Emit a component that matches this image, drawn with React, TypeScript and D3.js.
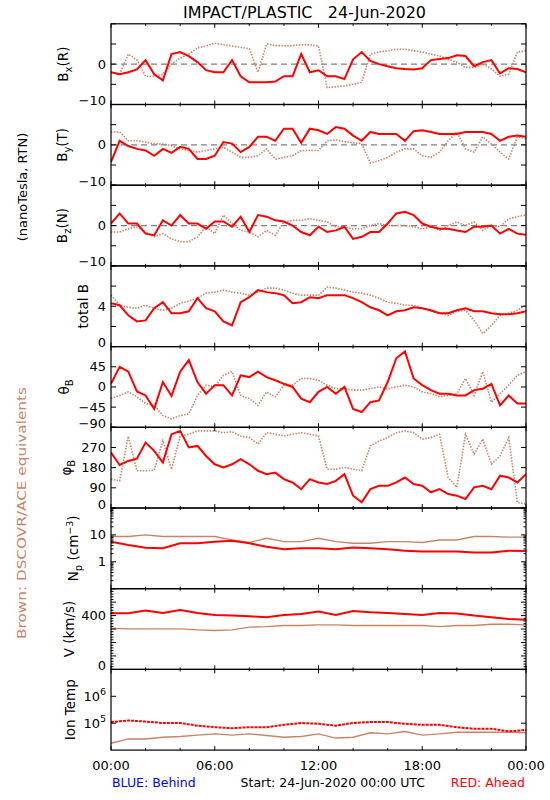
import React from "react";
import * as d3 from "d3";

const WIDTH = 550;
const HEIGHT = 800;
const PLOT_LEFT = 111;
const PLOT_RIGHT = 526;
const PLOT_TOP = 23.8;
const PANEL_H = 80.7;
const RED = "#ff0000";
const BROWN = "#c98468";
const GRAY = "#808080";
const FONT = "'DejaVu Sans', Verdana, sans-serif";

// ---------- time grids (hours since 00:00 UTC) ----------
const magHours = d3.range(0, 24.001, 0.5);
const plasmaHours = d3.range(0, 24.001, 1);

// ---------- magnetic field, nT (RTN) ----------
const bxRed = [
  -2, -2.5, -2, -1.3, 1, -2.5, -4, 2.5, 3, 2,
  0.5, -1.5, -2, -2, 1, -3, -4.5, -4.5, -4.5, -4.3,
  -3, -3, 2.5, -2, -1.5, -3, -3, -3.7, 1.2, 3,
  0.8, 0, -0.5, -1, -1.2, -1.3, -1, 1, 1.3, 1.5,
  2.2, 2, -0.5, 0.5, 1, -2.3, -1, -1.2, -2,
];
const bxBrown = [
  -2, -2.5, 2.5, 1, -3, -3, -2.5, 0, 1.5, 2.5,
  4, 4.5, 5.2, 4.8, 4.5, 4.2, 3.8, -2, 5, 4.6,
  4.6, 4.6, 4.8, 4.8, 4.5, -5.8, -5.6, -5.4, -5, -4.5,
  2.5, 3, 3.3, 3.7, 3.7, 3.3, 3, 2.5, 2, 1.2,
  0.5, -0.8, -0.8, 0, -1.2, -3, -2.5, 3, 3.3,
];
const byRed = [
  -4.3, 1, -0.3, -1, -1.4, -2.7, -1, -2, -0.5, -1,
  -3.5, -3.5, -2.7, 0.7, 0.3, -1.8, -0.5, 2, 2, 1,
  4, 4, 0.5, 4, 3.6, 2.7, 4.4, 4, 2.3, 1,
  3.2, 2.7, 2.7, 2.7, 1, 3.4, 3.6, 3.2, 2.7, 2.7,
  2.7, 3.2, 3.2, 3.2, 2.7, 1, 2, 2.3, 2,
];
const byBrown = [
  3.2, 3.2, 1, 1, 0.7, 0.3, 0.2, -0.2, -1, -1.4,
  -1.8, -1.4, -1, -0.6, -1.8, -3.1, -3.1, -2.7, -1, -3.5,
  -3.1, -2.7, -1.4, -1.4, -1.4, 1, 1.2, 0.8, 0.5, 0.3,
  -4.5, -3.9, -3.1, -1.8, -1, -1, -2.7, -3.1, -1.8, 1,
  3.2, -1, -1.8, 2, 0.2, -1.8, -3.5, 2, 1.5,
];
const bzRed = [
  0.5, 3, 0.5, 0.5, -2, -2.4, 1.3, 0, 2.6, 0.5,
  0.5, -0.8, 1, 1, -0.3, 2.2, -1.6, 2.6, 2.2, 1.3,
  1, 0, -1.6, -2.4, -0.3, -1.6, -1.2, -0.3, -3.3, -2.8,
  -1.6, -1.6, 0.5, 3, 3.4, 2.6, 0.5, -0.3, -0.8, -0.8,
  -1.2, -1.6, -0.3, -0.3, 0, -2, -0.8, -2, -2.3,
];
const bzBrown = [
  -1.6, -1.6, -0.8, -0.3, -1.6, -2.8, -2, -3.3, -4, -4,
  -2.8, -0.3, -2, 2.6, 0.5, -1.2, -1.6, -2.8, -1.2, -2.4,
  0.9, 1.3, 1.3, 1.7, 1.3, 0.9, -0.3, -0.3, -0.8, -0.8,
  0, 0.5, 0, 0, 0, -0.3, -0.8, -0.3, -1.2, 0,
  0.9, 0, 0.9, -1.2, 0, -0.3, 1.7, 2.2, 2.6,
];
const btRed = [
  4.3, 4.1, 3.1, 2.5, 2.6, 3.8, 4.4, 3.3, 3.3, 3.5,
  4.8, 3.8, 3.5, 2.5, 2.1, 4.4, 4.9, 5.6, 5.4, 5.3,
  5.1, 4.3, 4.4, 4.9, 4.8, 5.1, 5.1, 5.1, 4.8, 4.4,
  3.9, 3.6, 3.1, 3.5, 3.6, 3.9, 3.8, 3.6, 3.3, 3.3,
  3.6, 3.8, 3.5, 3.5, 3.3, 3.2, 3.2, 3.3, 3.5,
];
const btBrown = [
  5.1, 4.1, 3.9, 3.8, 4.1, 3.8, 3.6, 3.8, 4.3, 4.5,
  4.8, 5.3, 5.4, 5.6, 5.4, 5.3, 5.1, 5.4, 5.8, 5.8,
  5.6, 5.3, 5.1, 5.1, 5.1, 5.9, 5.8, 5.6, 5.4, 5.3,
  5.1, 4.8, 4.4, 4.3, 4.1, 4.1, 3.8, 3.5, 3.3, 3.1,
  3.5, 3.6, 2.6, 1.3, 2.1, 3.1, 3.3, 3.6, 4.1,
];
const thetaRed = [
  7, 45, 34, -10, -19, -49, 11, -20, 34, 60,
  11, -15, 4, 4, -19, 26, 22, 34, 22, 15,
  7, 0, -26, -34, -11, 0, -15, 0, -49, -56,
  -34, -30, 11, 64, 79, 19, 4, -7, -15, -15,
  -19, -19, -7, -4, 7, -41, -19, -37, -37,
];
const thetaBrown = [
  -26, -19, -11, -22, -37, -41, -64, -71, -64, -60,
  -19, 4, 0, 26, 34, -19, -26, -41, -11, -22,
  4, 4, 19, 19, 15, 4, -4, -4, -7, -7,
  -4, 0, -4, 0, 4, 0, -11, -15, -22, -19,
  -15, 19, -19, 34, -34, -15, 4, 26, 34,
];
const phiRed = [
  247, 192, 210, 220, 292, 255, 203, 329, 344, 270,
  277, 232, 195, 181, 195, 218, 195, 166, 151, 158,
  129, 114, 84, 129, 114, 107, 121, 151, 55, 25,
  84, 99, 99, 114, 136, 107, 99, 70, 84, 62,
  55, 40, 92, 99, 84, 144, 136, 114, 151,
];
const phiBrown = [
  129, 121, 320, 166, 166, 169, 300, 173, 321, 329,
  344, 344, 344, 336, 340, 321, 314, 285, 336, 329,
  321, 329, 336, 329, 321, 173, 173, 181, 173, 166,
  277, 299, 314, 336, 344, 336, 307, 314, 329, 136,
  92, 329, 240, 307, 196, 232, 314, 25, 18,
];

// ---------- plasma ----------
const npRed = [5.6, 4.2, 3.35, 3.2, 4.9, 4.9, 5.6, 6.1, 4.9, 3.6, 2.9, 3.2, 3.2, 2.9, 3.4, 3.2, 2.9, 2.6, 2.4, 2.4, 2.4, 2.2, 2.2, 2.6, 2.5];
const npBrown = [8.7, 8.7, 10, 8.7, 8.7, 8.7, 8.7, 6.5, 5.2, 7.5, 5.6, 5.6, 7.5, 5.6, 4.9, 4.9, 5.6, 5.6, 5.2, 6.5, 6.5, 8.7, 8.7, 8.3, 8.3];
const vRed = [417, 417, 437, 420, 442, 420, 405, 400, 395, 388, 405, 412, 430, 405, 434, 425, 420, 412, 405, 420, 415, 400, 388, 375, 370];
const vBrown = [306, 301, 301, 301, 301, 294, 289, 294, 314, 318, 326, 326, 331, 331, 326, 326, 326, 326, 326, 318, 326, 326, 336, 336, 331];
const tempRed = [110000, 126000, 115000, 102000, 102000, 81000, 71000, 65000, 71000, 71000, 87000, 102000, 95000, 81000, 102000, 110000, 110000, 95000, 87000, 87000, 71000, 62000, 62000, 50000, 56000];
const tempBrown = [18000, 26000, 26000, 30000, 32000, 36000, 40000, 36000, 40000, 35000, 30000, 32000, 40000, 28000, 30000, 44000, 40000, 49000, 36000, 40000, 46000, 46000, 46000, 46000, 44000];

// ---------- axes ----------
const xTickHours = [0, 2, 4, 6, 8, 10, 12, 14, 16, 18, 20, 22, 24];
const xMajorHours = [0, 6, 12, 18, 24];
const xTickLabels = ["00:00", "06:00", "12:00", "18:00", "00:00"];

const logMinor = (lo: number, hi: number) => {
  const out: number[] = [];
  for (let d = lo; d < hi; d *= 10) for (let k = 2; k <= 9; k++) out.push(d * k);
  return out;
};

type Label = { v: number; text: React.ReactNode; bottom?: boolean };
type Cfg = {
  key: string;
  title: React.ReactNode;
  titleX: number;
  log: boolean;
  domain: [number, number];
  major: number[];
  minor: number[];
  labels: Label[];
  zero: boolean;
  hours: number[];
  red: number[];
  brown: number[];
  dotted: boolean;
  redDash?: string;
};

const M = "\u2212";

const panels: Cfg[] = [
  {
    key: "bx", title: <>B<tspan dy={3.5} fontSize={10}>x</tspan><tspan dy={-3.5}>(R)</tspan></>, titleX: 68,
    log: false, domain: [-10, 10], major: [-10, -5, 0, 5, 10], minor: [],
    labels: [{ v: 0, text: "0" }, { v: -10, text: M + "10", bottom: true }],
    zero: true, hours: magHours, red: bxRed, brown: bxBrown, dotted: true,
  },
  {
    key: "by", title: <>B<tspan dy={3.5} fontSize={10}>y</tspan><tspan dy={-3.5}>(T)</tspan></>, titleX: 67,
    log: false, domain: [-10, 10], major: [-10, -5, 0, 5, 10], minor: [],
    labels: [{ v: 0, text: "0" }, { v: -10, text: M + "10", bottom: true }],
    zero: true, hours: magHours, red: byRed, brown: byBrown, dotted: true,
  },
  {
    key: "bz", title: <>B<tspan dy={3.5} fontSize={10}>z</tspan><tspan dy={-3.5}>(N)</tspan></>, titleX: 67,
    log: false, domain: [-10, 10], major: [-10, -5, 0, 5, 10], minor: [],
    labels: [{ v: 0, text: "0" }, { v: -10, text: M + "10", bottom: true }],
    zero: true, hours: magHours, red: bzRed, brown: bzBrown, dotted: true,
  },
  {
    key: "bt", title: "total B", titleX: 88,
    log: false, domain: [0, 8], major: [0, 2, 4, 6, 8], minor: [],
    labels: [{ v: 4, text: "4" }, { v: 0, text: "0", bottom: true }],
    zero: false, hours: magHours, red: btRed, brown: btBrown, dotted: true,
  },
  {
    key: "theta", title: <>θ<tspan dy={3.5} fontSize={10}>B</tspan></>, titleX: 69,
    log: false, domain: [-90, 90], major: [-90, -45, 0, 45, 90], minor: [],
    labels: [{ v: 45, text: "45" }, { v: 0, text: "0" }, { v: -45, text: M + "45" }, { v: -90, text: M + "90", bottom: true }],
    zero: false, hours: magHours, red: thetaRed, brown: thetaBrown, dotted: true,
  },
  {
    key: "phi", title: <>φ<tspan dy={3.5} fontSize={10}>B</tspan></>, titleX: 71,
    log: false, domain: [0, 360], major: [0, 90, 180, 270, 360], minor: [],
    labels: [{ v: 270, text: "270" }, { v: 180, text: "180" }, { v: 90, text: "90" }, { v: 0, text: "0", bottom: true }],
    zero: false, hours: magHours, red: phiRed, brown: phiBrown, dotted: true,
  },
  {
    key: "np",
    title: <>N<tspan dy={3.5} fontSize={10}>p</tspan><tspan dy={-3.5}> (cm</tspan><tspan dy={-5} fontSize={9.5}>{M}3</tspan><tspan dy={5}>)</tspan></>,
    titleX: 78,
    log: true, domain: [0.1, 100], major: [0.1, 1, 10, 100], minor: logMinor(0.1, 100),
    labels: [{ v: 10, text: "10" }, { v: 1, text: "1" }],
    zero: false, hours: plasmaHours, red: npRed, brown: npBrown, dotted: false,
  },
  {
    key: "v", title: "V (km/s)", titleX: 74,
    log: false, domain: [0, 600], major: [0, 100, 200, 300, 400, 500, 600],
    minor: d3.range(20, 600, 20).filter((v) => v % 100 !== 0),
    labels: [{ v: 400, text: "400" }, { v: 0, text: "0", bottom: true }],
    zero: false, hours: plasmaHours, red: vRed, brown: vBrown, dotted: false,
  },
  {
    key: "temp", title: "Ion Temp", titleX: 75,
    log: true, domain: [1e4, 1e7], major: [1e5, 1e6], minor: [],
    labels: [
      { v: 1e6, text: <>10<tspan dy={-5} fontSize={9.5}>6</tspan></> },
      { v: 1e5, text: <>10<tspan dy={-5} fontSize={9.5}>5</tspan></> },
    ],
    zero: false, hours: plasmaHours, red: tempRed, brown: tempBrown, dotted: false, redDash: "3 1",
  },
];

const x = d3.scaleLinear().domain([0, 24]).range([PLOT_LEFT, PLOT_RIGHT]);

function PanelView({ cfg, index }: { cfg: Cfg; index: number }) {
  const top = PLOT_TOP + index * PANEL_H;
  const bottom = top + PANEL_H;
  const y: (v: number) => number = cfg.log
    ? d3.scaleLog().domain(cfg.domain).range([bottom, top])
    : d3.scaleLinear().domain(cfg.domain).range([bottom, top]);
  const line = d3
    .line<number>()
    .x((_, i) => x(cfg.hours[i]))
    .y((v) => y(v));
  const clipId = `clip-${cfg.key}`;
  const mid = (top + bottom) / 2;
  return (
    <g>
      <defs>
        <clipPath id={clipId}>
          <rect x={PLOT_LEFT} y={top} width={PLOT_RIGHT - PLOT_LEFT} height={PANEL_H} />
        </clipPath>
      </defs>
      {cfg.zero && (
        <line x1={PLOT_LEFT} x2={PLOT_RIGHT} y1={y(0)} y2={y(0)} stroke={GRAY} strokeWidth={1.2} strokeDasharray="6 4" />
      )}
      <g clipPath={`url(#${clipId})`}>
        <path
          d={line(cfg.brown) || ""}
          fill="none"
          stroke={BROWN}
          strokeWidth={cfg.dotted ? 1.6 : 1.4}
          strokeDasharray={cfg.dotted ? "1.5 1.4" : undefined}
        />
        <path
          d={line(cfg.red) || ""}
          fill="none"
          stroke={RED}
          strokeWidth={2}
          strokeLinejoin="miter"
          strokeDasharray={cfg.redDash}
        />
      </g>
      {cfg.major.map((v) => (
        <g key={"M" + v} stroke="#000" strokeWidth={1}>
          <line x1={PLOT_LEFT} x2={PLOT_LEFT + 5} y1={y(v)} y2={y(v)} />
          <line x1={PLOT_RIGHT} x2={PLOT_RIGHT - 5} y1={y(v)} y2={y(v)} />
        </g>
      ))}
      {cfg.minor.map((v) => (
        <g key={"m" + v} stroke="#000" strokeWidth={1}>
          <line x1={PLOT_LEFT} x2={PLOT_LEFT + 2.5} y1={y(v)} y2={y(v)} />
          <line x1={PLOT_RIGHT} x2={PLOT_RIGHT - 2.5} y1={y(v)} y2={y(v)} />
        </g>
      ))}
      {xTickHours.map((h) => {
        const len = xMajorHours.includes(h) ? 4 : 2;
        return (
          <g key={"x" + h} stroke="#000" strokeWidth={1}>
            <line x1={x(h)} x2={x(h)} y1={top} y2={top + len} />
            <line x1={x(h)} x2={x(h)} y1={bottom} y2={bottom - len} />
          </g>
        );
      })}
      <rect x={PLOT_LEFT} y={top} width={PLOT_RIGHT - PLOT_LEFT} height={PANEL_H} fill="none" stroke="#000" strokeWidth={1.2} />
      {cfg.labels.map((l, i) => (
        <text
          key={"l" + i}
          x={106}
          y={y(l.v) + (l.bottom ? -4 : 0)}
          textAnchor="end"
          dominantBaseline="central"
          fontSize={13}
        >
          {l.text}
        </text>
      ))}
      <text transform={`translate(${cfg.titleX},${mid}) rotate(-90)`} textAnchor="middle" fontSize={13.5}>
        {cfg.title}
      </text>
    </g>
  );
}

export default function App() {
  const lastBottom = PLOT_TOP + panels.length * PANEL_H;
  return (
    <svg
      width={WIDTH}
      height={HEIGHT}
      viewBox={`0 0 ${WIDTH} ${HEIGHT}`}
      style={{ position: "absolute", left: 0, top: 0, background: "#fff" }}
      fontFamily={FONT}
    >
      <rect x={0} y={0} width={WIDTH} height={HEIGHT} fill="#fff" />
      <text x={183} y={17.5} fontSize={15.5} textLength={243} lengthAdjust="spacingAndGlyphs">
        IMPACT/PLASTIC{"\u00a0\u00a0\u00a0"}24-Jun-2020
      </text>
      {panels.map((p, i) => (
        <PanelView key={p.key} cfg={p} index={i} />
      ))}
      {xMajorHours.map((h, i) => (
        <text key={"xl" + i} x={x(h)} y={lastBottom + 20} textAnchor="middle" fontSize={13}>
          {xTickLabels[i]}
        </text>
      ))}
      <text transform="translate(27,187) rotate(-90)" textAnchor="middle" fontSize={13}>
        (nanoTesla, RTN)
      </text>
      <text
        transform="translate(26,513) rotate(-90)"
        textAnchor="middle"
        fontSize={13}
        fill={BROWN}
        textLength={252}
        lengthAdjust="spacingAndGlyphs"
      >
        Brown: DSCOVR/ACE equivalents
      </text>
      <text x={112} y={787} fontSize={12.5} fill="#0000ff">
        BLUE: Behind
      </text>
      <text x={425} y={787} fontSize={12.5} textAnchor="end">
        Start: 24-Jun-2020 00:00 UTC
      </text>
      <text x={525} y={787} fontSize={12.5} textAnchor="end" fill={RED}>
        RED: Ahead
      </text>
    </svg>
  );
}
